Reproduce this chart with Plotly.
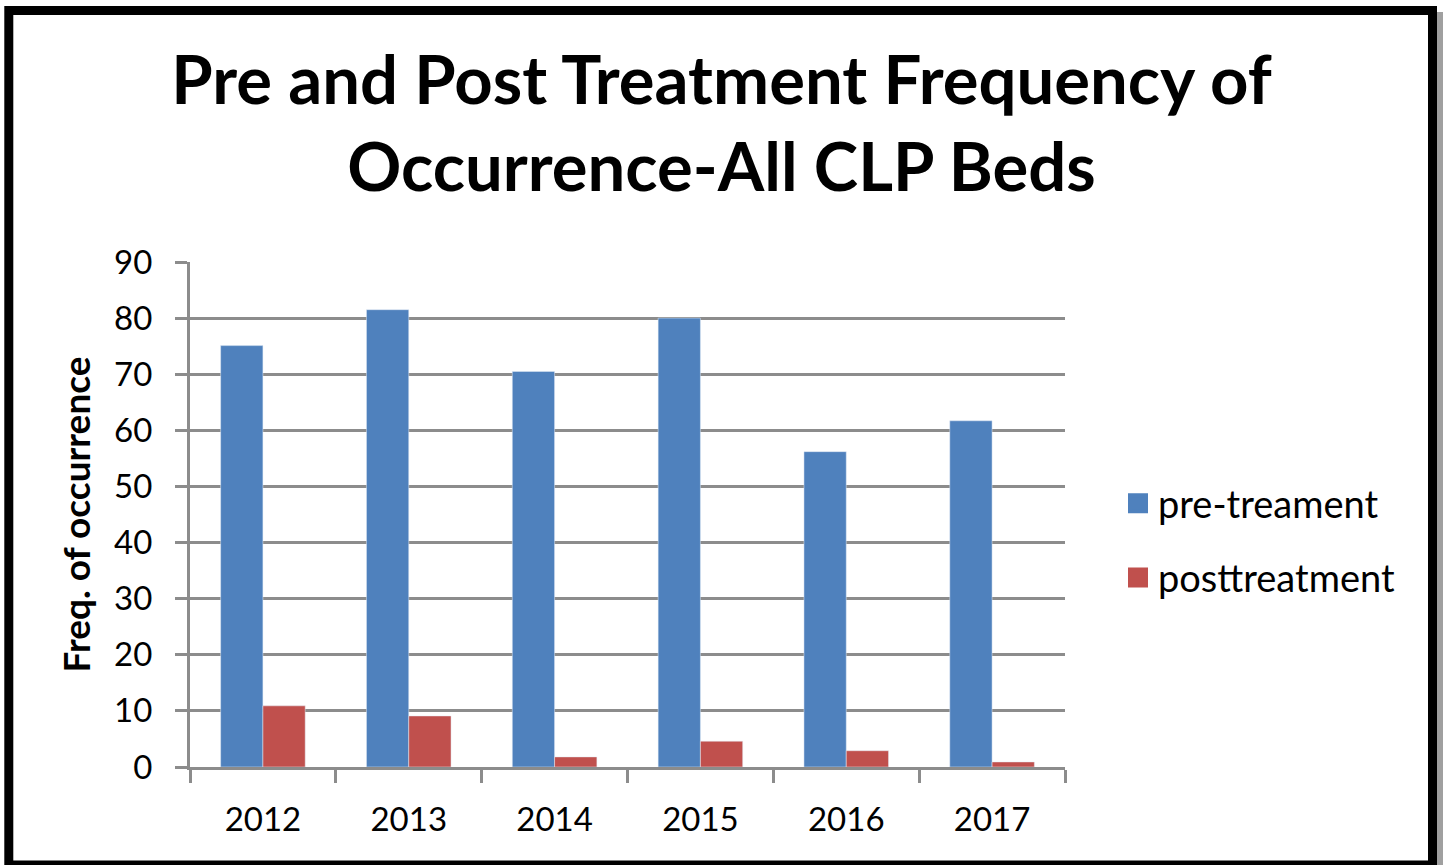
import plotly.graph_objects as go

years = ["2012", "2013", "2014", "2015", "2016", "2017"]
pre_treatment = [75.1, 81.5, 70.5, 80.0, 56.2, 61.7]
post_treatment = [10.9, 9.1, 1.8, 4.6, 2.9, 0.9]
y_ticks = [0, 10, 20, 30, 40, 50, 60, 70, 80, 90]

W, H = 1443, 865
L, R, T, B = 190, 1065, 262, 767

def px_x(p):
    return (p - L) / (R - L)

def px_y(p):
    return (B - p) / (B - T)

BLUE = "#4F81BD"
RED = "#C0504D"
GRID = "#8C8C8C"
FONT = "Lato"

fig = go.Figure()
fig.add_trace(go.Bar(x=years, y=pre_treatment, name="pre-treament",
                     marker=dict(color=BLUE), showlegend=False))
fig.add_trace(go.Bar(x=years, y=post_treatment, name="posttreatment",
                     marker=dict(color=RED), showlegend=False))
# legend entries
fig.add_trace(go.Scatter(x=[None], y=[None], mode="markers", name="pre-treament",
                         legendgroup="a",
                         marker=dict(symbol="square", size=16, color=BLUE,
                                     line=dict(color=BLUE, width=4))))
fig.add_trace(go.Scatter(x=[None], y=[None], mode="markers", name="posttreatment",
                         legendgroup="b",
                         marker=dict(symbol="square", size=16, color=RED,
                                     line=dict(color=RED, width=4))))

shapes = [
    # shadow
    dict(type="rect", xref="paper", yref="paper",
         x0=px_x(1437), x1=px_x(1443), y0=px_y(865), y1=px_y(12),
         fillcolor="#A0A0A0", line=dict(width=0), layer="below"),
    # frame
    dict(type="rect", xref="paper", yref="paper",
         x0=px_x(8.8), x1=px_x(1432.5), y0=px_y(865), y1=px_y(10.5),
         line=dict(color="black", width=9), fillcolor="rgba(0,0,0,0)"),
]

fig.update_layout(
    width=W, height=H,
    margin=dict(l=L, r=W - R, t=T, b=H - B),
    paper_bgcolor="white", plot_bgcolor="white",
    barmode="group", bargap=0.42, bargroupgap=0,
    font=dict(family=FONT, color="black", size=33),
    title=dict(text="<b>Pre and Post Treatment Frequency of<br>Occurrence-All CLP Beds</b>",
               x=0.5, xref="container", xanchor="center",
               y=1 - 104 / H, yref="container", yanchor="top",
               font=dict(family=FONT, size=67, color="black")),
    xaxis=dict(type="category", showline=True, linecolor=GRID, linewidth=3,
               ticks="outside", tickson="boundaries", ticklen=13, tickwidth=3,
               tickcolor=GRID, showgrid=False, ticklabelstandoff=21,
               tickfont=dict(size=33, family=FONT)),
    yaxis=dict(range=[0, 90], tickvals=y_ticks, showline=True, linecolor=GRID,
               linewidth=3, ticks="outside", ticklen=12, tickwidth=3,
               tickcolor=GRID, showgrid=True, gridcolor=GRID, gridwidth=2.5,
               zeroline=False, ticklabelstandoff=16,
               tickfont=dict(size=33, family=FONT),
               title=dict(text="<b>Freq. of occurrence</b>", standoff=13,
                          font=dict(size=37, family=FONT))),
    legend=dict(x=px_x(1118), xanchor="left", y=px_y(472), yanchor="top",
                font=dict(size=38, family=FONT), tracegroupgap=22,
                traceorder="grouped",
                itemsizing="trace", bgcolor="rgba(0,0,0,0)"),
    shapes=shapes,
)

fig.write_html("out.html", config={"displayModeBar": False},
               post_script="document.body.style.margin='0';")
